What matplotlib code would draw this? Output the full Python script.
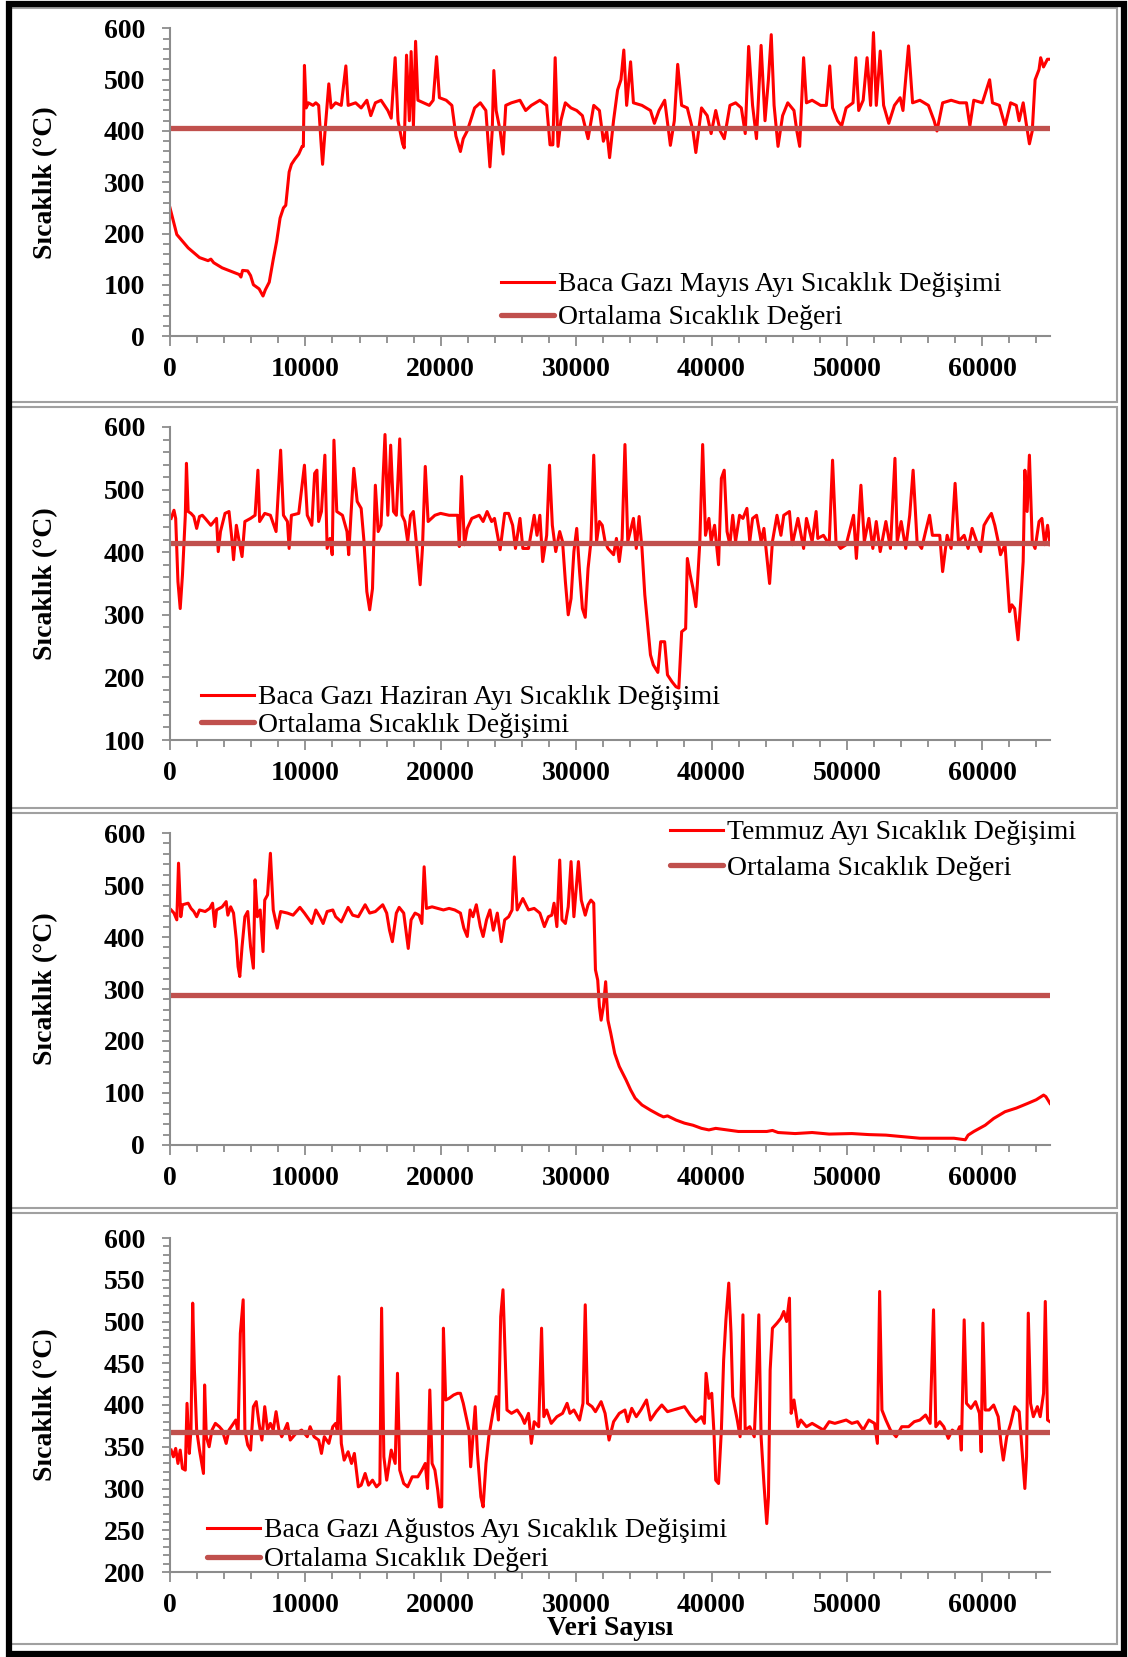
import matplotlib
matplotlib.use("Agg")
import matplotlib.pyplot as plt
from matplotlib.patches import Rectangle
from matplotlib.ticker import MultipleLocator

# --- Mayıs (May) ---
may_x = [0, 503, 1340, 2180, 2810, 3020, 3230, 3850, 5110, 5240, 5360, 5740, 5950, 6160, 6580, 6870,
         7040, 7330, 7630, 7880, 8130, 8380, 8550, 8800, 8970, 9220, 9510, 9760, 9850, 9930, 10060,
         10220, 10560, 10770, 10980, 11150, 11270, 11480, 11730, 11900, 12230, 12650, 12990, 13160,
         13710, 14120, 14540, 14830, 15170, 15590, 16090, 16340, 16630, 16840, 17180, 17300, 17470,
         17680, 17810, 17980, 18140, 18310, 18730, 19150, 19440, 19690, 19900, 20400, 20820, 21120,
         21450, 21660, 21950, 22200, 22500, 22920, 23330, 23630, 23800, 23920, 24090, 24390, 24600,
         24800, 25220, 25850, 26270, 26690, 27320, 27820, 28070, 28280, 28450, 28660, 28870, 29200,
         29620, 30040, 30460, 30880, 31300, 31720, 32010, 32260, 32470, 32760, 33060, 33310, 33520,
         33730, 34020, 34230, 34860, 35490, 35780, 36120, 36540, 36960, 37250, 37500, 37790, 38210,
         38630, 38840, 39260, 39680, 39970, 40310, 40640, 40940, 41360, 41780, 42200, 42490, 42740,
         43030, 43320, 43660, 43950, 44200, 44410, 44620, 44910, 45250, 45630, 46090, 46300, 46510,
         46800, 47010, 47430, 48060, 48480, 48730, 48940, 49310, 49610, 49940, 50450, 50660, 50870,
         51200, 51490, 51750, 51960, 52170, 52460, 52710, 53090, 53510, 53930, 54140, 54550, 54850,
         55390, 56020, 56440, 56650, 57070, 57700, 58320, 58830, 59080, 59370, 60000, 60540, 60750,
         61260, 61680, 62090, 62510, 62720, 63020, 63270, 63480, 63690, 63900, 64190, 64310, 64520,
         64810, 65000]
may_y = [250, 198, 172, 153, 147, 150, 143, 133, 120, 115, 128, 127, 118, 100, 92, 78,
         90, 105, 150, 185, 230, 250, 255, 320, 335, 345, 355, 370, 370, 528, 445,
         455, 450, 455, 450, 380, 335, 410, 492, 445, 455, 450, 527, 450,
         455, 445, 460, 430, 455, 460, 440, 425, 543, 420, 375, 367, 548,
         420, 555, 410, 575, 460, 455, 450, 460, 545, 465, 460, 450, 390,
         360, 385, 400, 420, 445, 455, 440, 330, 400, 518, 440, 400, 355,
         450, 455, 460, 440, 450, 460, 450, 373, 373, 543, 370, 420, 455,
         445, 440, 430, 385, 450, 440, 380, 400, 348, 420, 480, 500, 558,
         450, 535, 455, 450, 440, 415, 440, 460, 372, 420, 530, 450, 445,
         400, 358, 445, 430, 395, 440, 400, 385, 450, 455, 445, 395, 565,
         450, 385, 567, 420, 500, 588, 450, 370, 430, 455, 440, 400, 370,
         543, 455, 460, 450, 450, 527, 445, 420, 410, 445, 455, 543, 440,
         460, 543, 450, 592, 450, 556, 450, 415, 450, 465, 440, 566, 455,
         460, 450, 420, 400, 455, 460, 455, 455, 410, 460, 455, 500, 455,
         450, 410, 455, 450, 420, 455, 410, 375, 400, 500, 520, 543, 525,
         540, 540]
may_mean = 405

# --- Haziran (June) ---
jun_x = [84, 293, 419, 587, 754, 922, 1131, 1215, 1341, 1550, 1760, 1969, 2179, 2388, 2598, 3017,
         3436, 3562, 3729, 4064, 4358, 4567, 4693, 4902, 5112, 5321, 5531, 5950, 6285, 6494, 6620,
         6997, 7416, 7835, 8171, 8380, 8673, 8799, 8967, 9511, 9930, 10140, 10475, 10685, 10852,
         10978, 11187, 11439, 11606, 11816, 11983, 12109, 12319, 12738, 13073, 13199, 13366, 13576,
         13827, 14120, 14330, 14539, 14749, 14958, 15168, 15377, 15587, 15880, 16090, 16299, 16509,
         16718, 16970, 17137, 17347, 17556, 17766, 17975, 18143, 18478, 18646, 18855, 19065, 19567,
         19986, 20615, 21243, 21369, 21537, 21746, 21956, 22291, 22836, 23129, 23422, 23757, 23967,
         24386, 24721, 25014, 25308, 25517, 25852, 26062, 26481, 26900, 27109, 27319, 27528, 27822,
         28031, 28241, 28492, 28785, 28995, 29204, 29414, 29623, 29833, 30042, 30252, 30461, 30671,
         30880, 31090, 31299, 31509, 31718, 31928, 32137, 32347, 32766, 32975, 33185, 33394, 33604,
         33813, 34232, 34442, 34651, 34861, 35070, 35280, 35489, 35699, 36034, 36243, 36537, 36746,
         37081, 37375, 37584, 37794, 38087, 38213, 38422, 38632, 38841, 38967, 39135, 39344, 39554,
         39805, 39973, 40224, 40517, 40727, 40936, 41146, 41355, 41565, 41774, 42068, 42319, 42612,
         42822, 43031, 43325, 43660, 43869, 44288, 44498, 44833, 45126, 45336, 45755, 45964, 46383,
         46802, 47012, 47431, 47724, 47850, 48269, 48688, 48939, 49191, 49526, 49945, 50490, 50699,
         51034, 51286, 51621, 51914, 52166, 52459, 52878, 53213, 53548, 53716, 54009, 54344, 54638,
         54889, 55182, 55518, 55811, 56104, 56314, 56858, 57068, 57403, 57696, 57990, 58241, 58660,
         58953, 59247, 59582, 59875, 60127, 60420, 60671, 60923, 61174, 61342, 61677, 62012, 62180,
         62389, 62641, 62850, 63018, 63144, 63311, 63479, 63688, 63898, 64191, 64401, 64610, 64820,
         65000]
jun_y = [454, 467, 454, 353, 310, 364, 459, 542, 465, 462, 457, 438, 457, 459, 454, 443,
         454, 401, 433, 462, 465, 422, 388, 443, 417, 393, 449, 454, 459, 531, 449,
         462, 459, 433, 563, 459, 449, 406, 459, 462, 539, 459, 443, 526, 531,
         449, 465, 555, 406, 422, 396, 579, 465, 459, 433, 396, 459, 534,
         481, 470, 417, 337, 308, 342, 507, 433, 443, 588, 459, 571, 465,
         459, 581, 459, 449, 417, 459, 465, 427, 348, 406, 537, 449, 459,
         462, 459, 459, 409, 521, 412, 438, 454, 459, 449, 465, 449, 454,
         404, 462, 462, 443, 406, 454, 406, 406, 459, 427, 459, 385, 427,
         539, 443, 401, 433, 417, 353, 300, 326, 401, 438, 369, 310, 296,
         374, 417, 555, 417, 449, 443, 417, 406, 396, 422, 385, 422, 572,
         417, 454, 406, 457, 406, 332, 284, 236, 220, 208, 257, 257, 204,
         193, 185, 183, 273, 278, 390, 364, 342, 313, 353, 417, 572, 427,
         454, 417, 443, 380, 518, 531, 433, 412, 459, 417, 459, 454, 470,
         417, 454, 459, 417, 438, 350, 417, 459, 427, 459, 465, 412, 454,
         406, 454, 417, 465, 422, 427, 412, 547, 417, 406, 412, 459, 390,
         507, 417, 454, 406, 449, 401, 449, 406, 550, 417, 449, 406, 459,
         531, 417, 406, 433, 459, 427, 427, 369, 427, 406, 510, 417, 427,
         406, 438, 417, 401, 443, 454, 462, 443, 417, 396, 412, 305, 316,
         310, 260, 326, 385, 531, 465, 555, 417, 406, 449, 454, 412, 443,
         412]
jun_mean = 415

# --- Temmuz (July) ---
jul_x = [84, 293, 503, 629, 796, 922, 1341, 1550, 1760, 1969, 2179, 2598, 2933, 3143, 3310, 3436,
         3855, 4148, 4274, 4483, 4693, 4902, 5028, 5154, 5321, 5531, 5740, 5950, 6159, 6285, 6453,
         6662, 6872, 6997, 7207, 7416, 7626, 7919, 8171, 8673, 9092, 9595, 9930, 10475, 10768,
         11062, 11313, 11606, 12025, 12235, 12654, 13157, 13492, 13911, 14414, 14749, 15168, 15713,
         16006, 16215, 16425, 16718, 16928, 17263, 17598, 17808, 18101, 18394, 18604, 18771, 18939,
         19358, 19777, 20196, 20615, 21034, 21453, 21704, 21956, 22165, 22375, 22626, 22919, 23129,
         23380, 23632, 23883, 24176, 24470, 24721, 25014, 25266, 25433, 25643, 26062, 26481, 26900,
         27319, 27654, 27947, 28199, 28366, 28576, 28785, 28953, 29204, 29414, 29623, 29833, 30168,
         30378, 30671, 30880, 31090, 31299, 31425, 31593, 31718, 31844, 32012, 32179, 32347, 32556,
         32850, 33185, 33688, 34023, 34358, 34861, 35489, 36118, 36453, 36746, 37375, 38003, 38632,
         39260, 39805, 40308, 41146, 41984, 43031, 44079, 44498, 44917, 46174, 47431, 48688, 50364,
         51621, 52878, 54135, 55392, 56649, 57906, 58744, 58953, 59372, 60210, 60839, 61677, 62515,
         63353, 63981, 64526, 64694, 65000]
jul_y = [452, 446, 433, 542, 439, 462, 465, 455, 449, 439, 452, 449, 455, 465, 420, 452,
         458, 468, 442, 458, 446, 394, 343, 324, 381, 439, 449, 381, 340, 510, 439,
         452, 372, 471, 481, 561, 452, 417, 449, 446, 442, 457, 446, 426, 452,
         439, 426, 449, 452, 439, 429, 457, 442, 439, 462, 446, 449, 462,
         446, 413, 391, 446, 457, 446, 378, 433, 446, 442, 426, 535, 455,
         458, 455, 452, 455, 452, 446, 417, 401, 452, 439, 462, 420, 401,
         433, 452, 413, 446, 391, 433, 439, 452, 554, 452, 474, 452, 455,
         446, 420, 439, 442, 465, 420, 548, 433, 426, 458, 545, 439, 545,
         471, 442, 462, 471, 465, 337, 317, 266, 240, 266, 314, 240, 215,
         176, 151, 125, 106, 90, 77, 67, 58, 54, 56, 48, 42, 38,
         32, 29, 32, 29, 26, 26, 26, 28, 24, 22, 24, 21, 22,
         20, 19, 16, 13, 13, 13, 10, 19, 26, 38, 51, 64, 71,
         80, 87, 96, 93, 80]
jul_mean = 288

# --- Ağustos (August) ---
aug_x = [84, 251, 419, 587, 754, 922, 1131, 1257, 1425, 1550, 1676, 1802, 1969, 2179, 2346, 2472,
         2556, 2682, 2891, 3101, 3352, 3645, 3855, 4148, 4358, 4609, 4860, 5028, 5196, 5405, 5531,
         5740, 5950, 6159, 6369, 6578, 6788, 6997, 7207, 7416, 7626, 7835, 8045, 8254, 8464, 8673,
         8883, 9302, 9721, 10140, 10349, 10643, 10978, 11187, 11397, 11732, 12025, 12235, 12361,
         12486, 12654, 12863, 13157, 13408, 13618, 13911, 14120, 14414, 14665, 14958, 15252, 15503,
         15629, 15796, 16006, 16341, 16634, 16802, 16970, 17263, 17556, 17891, 18310, 18604, 18855,
         19023, 19190, 19358, 19567, 19777, 19903, 20070, 20196, 20363, 20615, 20950, 21243, 21453,
         21662, 21872, 22081, 22207, 22375, 22542, 22710, 22961, 23129, 23338, 23548, 23883, 24093,
         24260, 24428, 24596, 24721, 24889, 25224, 25643, 25978, 26188, 26481, 26690, 26900, 27235,
         27445, 27612, 27822, 28157, 28576, 28995, 29330, 29540, 29833, 30252, 30503, 30671, 30838,
         31174, 31425, 31844, 32137, 32430, 32766, 33185, 33604, 33813, 34107, 34442, 34777, 35196,
         35489, 35908, 36327, 36746, 37165, 37584, 38003, 38422, 38841, 39260, 39470, 39596, 39805,
         40015, 40182, 40308, 40517, 40727, 40894, 41062, 41272, 41439, 41565, 41900, 42110, 42319,
         42487, 42822, 43157, 43325, 43492, 43660, 43869, 44079, 44205, 44330, 44498, 44833, 45126,
         45336, 45545, 45755, 45881, 46090, 46383, 46593, 47012, 47431, 47850, 48269, 48688, 49107,
         49526, 49945, 50364, 50783, 51202, 51621, 52040, 52250, 52417, 52585, 52878, 53213, 53632,
         54051, 54554, 54973, 55392, 55811, 56146, 56397, 56565, 56858, 57152, 57487, 57780, 58115,
         58325, 58451, 58660, 58828, 59163, 59498, 59791, 59917, 60043, 60210, 60503, 60839, 61174,
         61383, 61551, 61803, 62096, 62389, 62724, 62934, 63143, 63269, 63395, 63563, 63772, 64066,
         64275, 64526, 64652, 64820, 65000]
aug_y = [346, 338, 348, 330, 346, 324, 322, 402, 342, 370, 522, 442, 370, 346, 330, 318,
         424, 362, 350, 370, 378, 374, 370, 354, 370, 376, 382, 366, 486, 526, 370,
         352, 346, 398, 404, 378, 358, 398, 370, 378, 370, 392, 370, 362, 370, 378,
         358, 366, 370, 362, 374, 362, 358, 342, 362, 354, 374, 378, 370,
         434, 354, 334, 344, 330, 342, 302, 304, 318, 304, 310, 302, 306,
         516, 338, 310, 346, 330, 438, 322, 306, 302, 314, 314, 322, 330,
         300, 418, 330, 322, 298, 278, 278, 492, 406, 408, 412, 414, 414,
         402, 386, 370, 326, 362, 398, 342, 290, 278, 330, 362, 394, 410,
         382, 506, 538, 478, 394, 390, 394, 386, 378, 390, 354, 380, 374,
         492, 386, 394, 378, 386, 390, 402, 390, 394, 382, 402, 520, 402,
         398, 392, 404, 390, 358, 380, 390, 394, 380, 396, 386, 394, 406,
         382, 392, 400, 392, 394, 396, 398, 388, 380, 386, 378, 438, 408,
         414, 366, 310, 306, 370, 454, 502, 546, 486, 410, 382, 362, 508,
         370, 374, 362, 430, 508, 362, 306, 258, 290, 442, 492, 498, 504,
         512, 500, 528, 390, 406, 374, 382, 374, 378, 374, 370, 380, 378,
         380, 382, 378, 380, 370, 382, 378, 354, 536, 394, 382, 370, 362,
         374, 374, 380, 382, 388, 378, 514, 374, 380, 374, 360, 370, 366,
         374, 346, 502, 402, 396, 404, 390, 344, 498, 394, 394, 400, 386,
         354, 334, 362, 378, 398, 392, 346, 300, 338, 510, 402, 386, 398,
         386, 414, 524, 382, 380]
aug_mean = 368

panels = [
    (may_x, may_y, may_mean, (0, 600), 100,
     "Baca Gazı Mayıs Ayı Sıcaklık Değişimi", "Ortalama Sıcaklık Değeri"),
    (jun_x, jun_y, jun_mean, (100, 600), 100,
     "Baca Gazı Haziran Ayı Sıcaklık Değişimi", "Ortalama Sıcaklık Değişimi"),
    (jul_x, jul_y, jul_mean, (0, 600), 100,
     "Temmuz Ayı Sıcaklık Değişimi", "Ortalama Sıcaklık Değeri"),
    (aug_x, aug_y, aug_mean, (200, 600), 50,
     "Baca Gazı Ağustos Ayı Sıcaklık Değişimi", "Ortalama Sıcaklık Değeri"),
]

W, H = 1128, 1657
plt.rcParams['font.family'] = ['Liberation Serif', 'DejaVu Serif']
fig = plt.figure(figsize=(W / 100, H / 100), dpi=100)


def fx(px):
    return px / W


def fy(py):
    return 1 - py / H


# axes boxes in pixels: (top, bottom)
ax_rows = [(28.5, 336), (427, 740), (833, 1145), (1238, 1572)]
ax_left, ax_right = 170, 1050
# chart-area frames (top, bottom)
frames = [(7.5, 402), (407, 808), (813, 1208), (1213, 1644)]
# legend anchor (left, top) in pixels and row spacing
leg_pos = [(501, 272, 0.27), (201, 685, 0.07), (670, 820, 0.35), (207, 1518, 0.13)]

red = '#FF0000'
mean_col = '#C0504D'
grey = '#8C8C8C'

for i, (xs, ys, m, ylim, major, lab1, lab2) in enumerate(panels):
    top, bot = ax_rows[i]
    ax = fig.add_axes([fx(ax_left), fy(bot), fx(ax_right - ax_left), (bot - top) / H])
    ax.plot(xs, ys, color=red, lw=2.2, label=lab1)
    ax.axhline(m, color=mean_col, lw=3.8, solid_capstyle='round', label=lab2)
    ax.set_xlim(0, 65000)
    ax.set_ylim(*ylim)
    ax.xaxis.set_major_locator(MultipleLocator(10000))
    ax.xaxis.set_minor_locator(MultipleLocator(2000))
    ax.yaxis.set_major_locator(MultipleLocator(major))
    ax.yaxis.set_minor_locator(MultipleLocator(major / 5 if major == 100 else 10))
    for s in ['top', 'right']:
        ax.spines[s].set_visible(False)
    for s in ['left', 'bottom']:
        ax.spines[s].set_color(grey)
        ax.spines[s].set_linewidth(1.5)
    ax.tick_params(which='both', direction='out', color=grey, width=1.3)
    ax.tick_params(axis='y', which='major', length=6, pad=12)
    ax.tick_params(axis='y', which='minor', length=5)
    ax.tick_params(axis='x', which='major', length=7, pad=8)
    ax.tick_params(axis='x', which='minor', length=5)
    for t in ax.get_xticklabels() + ax.get_yticklabels():
        t.set_fontsize(20)
        t.set_fontweight('bold')
    ax.set_ylabel('Sıcaklık (°C)', fontsize=20, fontweight='bold')
    ax.yaxis.set_label_coords(-0.127, 0.5)
    lx, ly, sp = leg_pos[i]
    ax.legend(loc='upper left', bbox_to_anchor=(fx(lx), fy(ly)), bbox_transform=fig.transFigure,
              frameon=False, fontsize=20, handlelength=1.9, handletextpad=0.15,
              borderpad=0, borderaxespad=0, labelspacing=sp)
    if i == 3:
        ax.set_xlabel('Veri Sayısı', fontsize=20, fontweight='bold', labelpad=-1)

    ft, fb = frames[i]
    fig.patches.append(Rectangle((fx(11), fy(fb)), fx(1117 - 11), (fb - ft) / H,
                                 transform=fig.transFigure, fill=False,
                                 edgecolor='#A0A0A0', lw=1.5))

# outer black border
fig.patches.append(Rectangle((fx(8.5), fy(1654)), fx(1124 - 8.5), (1654 - 3.5) / H,
                             transform=fig.transFigure, fill=False, edgecolor='black', lw=4.5))

fig.savefig('out.png', dpi=100)
